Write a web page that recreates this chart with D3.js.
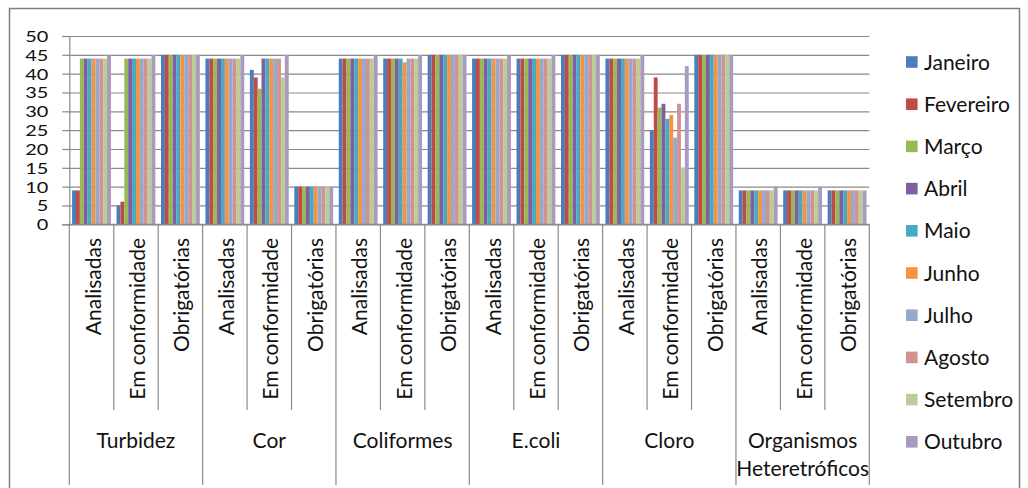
<!DOCTYPE html>
<html>
<head>
<meta charset="utf-8">
<script src="https://cdn.jsdelivr.net/npm/d3@7"></script>
<style>
  html, body { margin: 0; padding: 0; background: #fff; }
  svg { display: block; }
  text { font-family: Lato, "Noto Sans", sans-serif; fill: #111; }
</style>
</head>
<body>
<svg id="chart" width="1028" height="488"></svg>
<script>
// ---- data ----
const groups = ["Turbidez", "Cor", "Coliformes", "E.coli", "Cloro", "Organismos|Heteretróficos"];
const subCategories = ["Analisadas", "Em conformidade", "Obrigatórias"];
const months = ["Janeiro", "Fevereiro", "Março", "Abril", "Maio", "Junho", "Julho", "Agosto", "Setembro", "Outubro"];
const yTicks = [0, 5, 10, 15, 20, 25, 30, 35, 40, 45, 50];
const colors = ["#4A7EBB", "#BE4B48", "#98B954", "#7D60A0", "#46AAC5", "#F69240", "#93A9CF", "#D19392", "#B9CD96", "#A99BBD"];

// values per month, category order: group x subCategory
const janeiro   = [9, 5, 45, 44, 41, 10, 44, 44, 45, 44, 44, 45, 44, 25, 45, 9, 9, 9];
const fevereiro = [9, 6, 45, 44, 39, 10, 44, 44, 45, 44, 44, 45, 44, 39, 45, 9, 9, 9];
const marco     = [44, 44, 45, 44, 36, 10, 44, 44, 45, 44, 44, 45, 44, 31, 45, 9, 9, 9];
const abril     = [44, 44, 45, 44, 44, 10, 44, 44, 45, 44, 44, 45, 44, 32, 45, 9, 9, 9];
const maio      = [44, 44, 45, 44, 44, 10, 44, 44, 45, 44, 44, 45, 44, 28, 45, 9, 9, 9];
const junho     = [44, 44, 45, 44, 44, 10, 44, 43, 45, 44, 44, 45, 44, 29, 45, 9, 9, 9];
const julho     = [44, 44, 45, 44, 44, 10, 44, 44, 45, 44, 44, 45, 44, 23, 45, 9, 9, 9];
const agosto    = [44, 44, 45, 44, 44, 10, 44, 44, 45, 44, 44, 45, 44, 32, 45, 9, 9, 9];
const setembro  = [44, 44, 45, 44, 39, 10, 44, 44, 45, 44, 44, 45, 44, 15, 45, 9, 9, 9];
const outubro   = [45, 45, 45, 45, 45, 10, 45, 45, 45, 45, 45, 45, 45, 42, 45, 10, 10, 9];
const series = [janeiro, fevereiro, marco, abril, maio, junho, julho, agosto, setembro, outubro];

// ---- layout ----
const svg = d3.select("#chart");
const plot = { left: 69.3, right: 869.3, top: 36, bottom: 224.3 };
const gridColor = "#8a8a8a";

// categories (flattened)
const cats = [];
groups.forEach((g, gi) => subCategories.forEach((s, si) => cats.push({ key: gi + "-" + si, g: gi, s: si, label: s })));

const x = d3.scaleBand().domain(cats.map(c => c.key)).range([plot.left, plot.right]).paddingInner(0).paddingOuter(0);
const xm = d3.scaleBand().domain(months).range([0, x.bandwidth()]).paddingInner(0).paddingOuter(0.72);
const y = d3.scaleLinear().domain([0, 50]).range([plot.bottom, plot.top]);

// outer border
svg.append("rect").attr("x", 9.5).attr("y", 8.5).attr("width", 1010).attr("height", 490)
  .attr("fill", "none").attr("stroke", "#7f7f7f").attr("stroke-width", 1.5);

// gridlines
svg.append("g").attr("transform", `translate(${plot.left},0)`)
  .call(d3.axisLeft(y).tickValues(yTicks).tickSize(-(plot.right - plot.left)).tickFormat(""))
  .call(g => g.select(".domain").remove())
  .call(g => g.selectAll("line").attr("stroke", gridColor).attr("stroke-width", 1.2));

// y axis
const yAxis = svg.append("g").attr("transform", `translate(${plot.left},0)`)
  .call(d3.axisLeft(y).tickValues(yTicks).tickSize(7).tickPadding(0));
yAxis.select(".domain").attr("stroke", gridColor).attr("stroke-width", 1.2);
yAxis.selectAll("line").attr("stroke", gridColor).attr("stroke-width", 1.2);
yAxis.selectAll("text").remove();
yAxis.selectAll(".tick").append("text")
  .attr("transform", "translate(-21,0) scale(1.33,1)")
  .attr("text-anchor", "end").attr("dy", "0.36em")
  .style("font-size", "15px").style("fill", "#111")
  .text(d => d);

// bars
const catG = svg.append("g").selectAll("g").data(cats).join("g")
  .attr("transform", c => `translate(${x(c.key)},0)`);
catG.selectAll("rect").data((c, ci) => months.map((m, mi) => ({ m, mi, v: series[mi][cats.indexOf(c)] })))
  .join("rect")
  .attr("x", d => xm(d.m))
  .attr("width", xm.bandwidth())
  .attr("y", d => y(d.v))
  .attr("height", d => y(0) - y(d.v))
  .attr("fill", d => colors[d.mi]);

// x axis line
svg.append("line").attr("x1", plot.left).attr("x2", plot.right).attr("y1", plot.bottom).attr("y2", plot.bottom)
  .attr("stroke", gridColor).attr("stroke-width", 1.2);

// separators below axis
const bounds = d3.range(cats.length + 1);
svg.append("g").selectAll("line").data(bounds).join("line")
  .attr("x1", i => plot.left + i * x.step()).attr("x2", i => plot.left + i * x.step())
  .attr("y1", plot.bottom).attr("y2", i => (i % 3 === 0) ? 485 : 410)
  .attr("stroke", gridColor).attr("stroke-width", 1.2);

// sub category labels (rotated)
svg.append("g").selectAll("text").data(cats).join("text")
  .attr("transform", c => `translate(${x(c.key) + x.bandwidth() / 2 + 1.5},238) rotate(-90)`)
  .attr("text-anchor", "end").attr("dy", "0.36em")
  .style("font-size", "21px")
  .text(c => c.label);

// group labels
const gw = x.step() * 3;
const gl = svg.append("g").selectAll("text").data(groups).join("text")
  .attr("text-anchor", "middle")
  .attr("x", (g, i) => plot.left + i * gw + gw / 2)
  .attr("y", 448)
  .style("font-size", "21px");
gl.each(function (g) {
  const parts = g.split("|");
  const t = d3.select(this);
  parts.forEach((p, k) => t.append("tspan").attr("x", t.attr("x")).attr("dy", k === 0 ? 0 : 28).text(p));
});

// legend
const lg = svg.append("g").selectAll("g").data(months).join("g")
  .attr("transform", (m, i) => `translate(906,${62 + i * 42.2})`);
lg.append("rect").attr("x", 0).attr("y", -5.8).attr("width", 11.6).attr("height", 11.6).attr("fill", (m, i) => colors[i]);
lg.append("text").attr("x", 18).attr("dy", "0.36em").style("font-size", "21px").text(m => m);
</script>
</body>
</html>
